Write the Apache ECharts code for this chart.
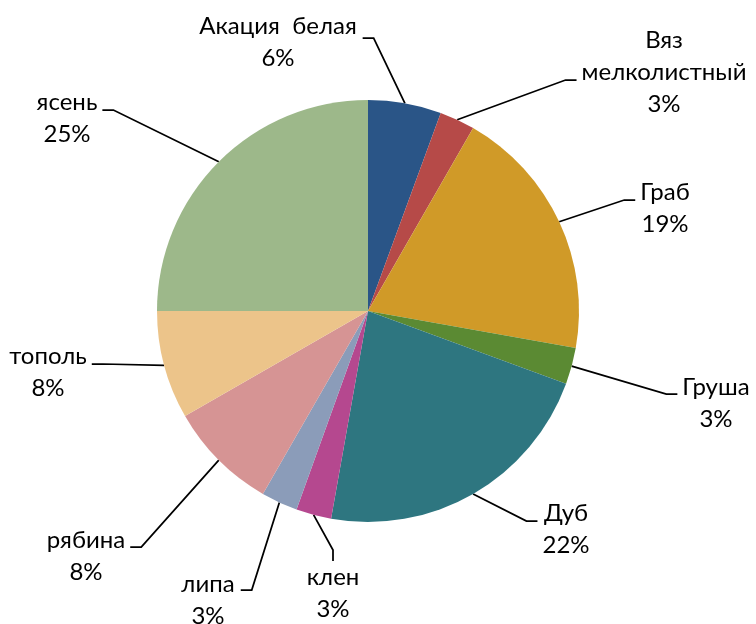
<!DOCTYPE html>
<html>
<head>
<meta charset="utf-8">
<script src="https://cdn.jsdelivr.net/npm/echarts@6/dist/echarts.min.js"></script>
<style>
  html, body { margin: 0; padding: 0; background: #fff; }
  #chart { width: 756px; height: 624px; }
</style>
</head>
<body>
<div id="chart"></div>
<script>
// породы деревьев, по часовой стрелке от 12 часов
const names = ['Акация  белая', 'Вяз\nмелколистный', 'Граб', 'Груша', 'Дуб', 'клен', 'липа', 'рябина', 'тополь', 'ясень'];
const values = [5.6, 2.7, 19.5, 2.8, 22.2, 2.7, 2.8, 8.4, 8.3, 25.0];
const colors = ['#2A5587', '#B64A48', '#D09A28', '#5B8A33', '#2E7680', '#B5488F', '#8B9CB9', '#D69494', '#ECC48A', '#9DB88A'];

// центры подписей (x, y)
const labelPos = [
    [278, 42], [664, 72], [665, 208], [716, 403], [566, 529],
    [333, 593], [208, 600], [86, 556], [48, 372], [67, 118]
];
// где выноска цепляется к подписи относительно центра текста (по вертикали)
const labelShift = [-4, 8, -8, -9, -8, 0, -10, -9, -8, -8];
// лишний отступ слева, чтобы выноска шла к правому краю подписи
const labelPadLeft = [0, 0, 0, 0, 0, 0, 120, 0, 0, 0];
const LINE_H = 32;
const GAP = 5;

const padTop = (i) => labelShift[i] < 0 ? -2 * labelShift[i] : 0;
const padBottom = (i) => labelShift[i] > 0 ? 2 * labelShift[i] : 0;
const lineCount = (i) => names[i].split('\n').length + 1;

const chart = echarts.init(document.getElementById('chart'));
const pieData = names.map((n, i) => ({
    name: n,
    value: values[i],
    itemStyle: { color: colors[i] },
    label: {
        padding: [padTop(i), GAP, padBottom(i), GAP + labelPadLeft[i]],
        backgroundColor: 'transparent'
    }
}));

chart.setOption({
    animation: false,
    series: [
        {
            type: 'pie',
            center: [368, 311],
            radius: 211,
            startAngle: 90,
            clockwise: true,
            percentPrecision: 0,
            data: pieData,
            label: {
                show: true,
                position: 'outside',
                formatter: '{b}\n{d}%',
                fontFamily: 'Lato',
                fontSize: 24,
                lineHeight: LINE_H,
                color: '#000',
                align: 'center'
            },
            labelLine: {
                show: true,
                length: 15,
                length2: 11,
                minTurnAngle: 0,
                lineStyle: { color: '#000', width: 1.75 }
            },
            labelLayout: (params) => {
                const i = params.dataIndex;
                return {
                    x: labelPos[i][0] - labelPadLeft[i] / 2,
                    y: labelPos[i][1] - lineCount(i) * LINE_H / 2 - padTop(i),
                    align: 'center',
                    verticalAlign: 'top'
                };
            },
            emphasis: { disabled: true }
        }
    ]
});
</script>
</body>
</html>
